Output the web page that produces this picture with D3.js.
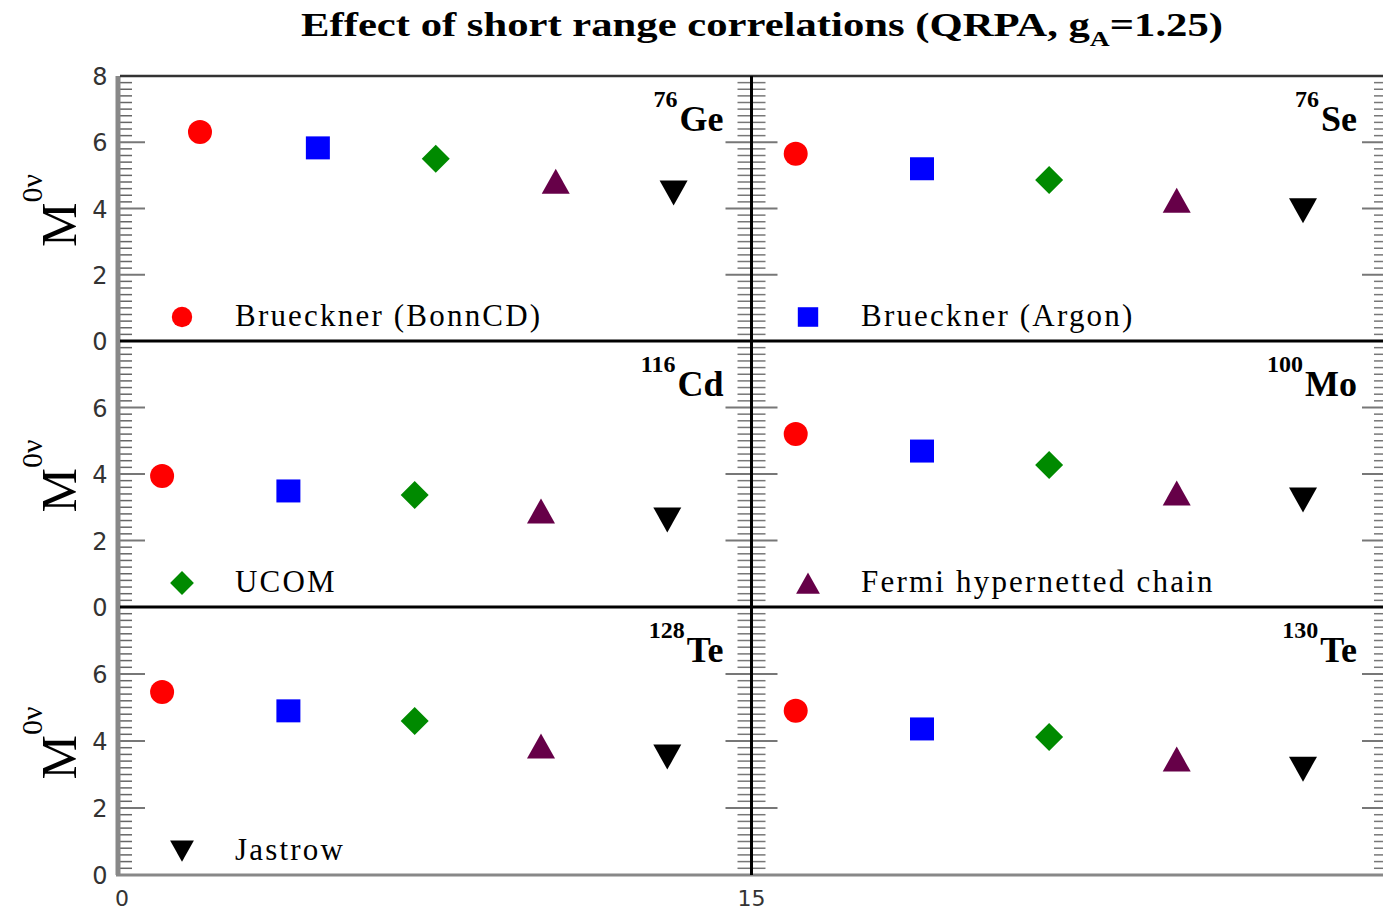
<!DOCTYPE html>
<html>
<head>
<meta charset="utf-8">
<script src="https://cdn.jsdelivr.net/npm/d3@7"></script>
<style>
  body { margin: 0; background: #fff; }
  svg { display: block; }
</style>
</head>
<body>
<div id="chart"></div>
<script>
// values
let methods = ["Brueckner (BonnCD)", "Brueckner (Argon)", "UCOM", "Fermi hypernetted chain", "Jastrow"];
let massNumbers = ["76", "76", "116", "100", "128", "130"];
let symbols = ["Ge", "Se", "Cd", "Mo", "Te", "Te"];

let xGe = [1.9, 4.7, 7.5, 10.35, 13.15];
let xLeft = [1, 4, 7, 10, 13];
let xRight = [16.05, 19.05, 22.07, 25.1, 28.1];

let valGe = [6.31, 5.83, 5.5, 4.82, 4.47];
let valSe = [5.65, 5.2, 4.86, 4.25, 3.93];
let valCd = [3.94, 3.49, 3.37, 2.89, 2.62];
let valMo = [5.2, 4.69, 4.27, 3.43, 3.22];
let valTe128 = [5.46, 4.9, 4.6, 3.85, 3.52];
let valTe130 = [4.9, 4.36, 4.12, 3.46, 3.16];

let yTicks = [0, 2, 4, 6, 8];
let xTickLabels = [0, 15];

let panelX = [xGe, xRight, xLeft, xRight, xLeft, xRight];
let panelVals = [valGe, valSe, valCd, valMo, valTe128, valTe130];

let colors = ["#ff0000", "#0000ff", "#008a00", "#660048", "#000000"];

let W = 1383, H = 913;
let rowTop = [76, 341, 607];
let rowBot = [341, 607, 875];

let svg = d3.select("#chart").append("svg")
  .attr("width", W).attr("height", H);

let x = d3.scaleLinear().domain([0, 30]).range([120, 1383]);
let yScales = rowTop.map((t, i) => d3.scaleLinear().domain([0, 8]).range([rowBot[i], t]));

// marker shapes
function markerPath(k) {
  let p = d3.path();
  if (k == 0) {
    p.arc(0, 0, 12, 0, 2 * Math.PI);
  } else if (k == 1) {
    p.rect(-12, -11.5, 24, 23);
  } else if (k == 2) {
    p.moveTo(0, -14); p.lineTo(14, 0); p.lineTo(0, 14); p.lineTo(-14, 0); p.closePath();
  } else if (k == 3) {
    p.moveTo(0, -12.5); p.lineTo(14, 12.5); p.lineTo(-14, 12.5); p.closePath();
  } else {
    p.moveTo(0, 12.5); p.lineTo(14, -12.5); p.lineTo(-14, -12.5); p.closePath();
  }
  return p.toString();
}

let font = "'Liberation Serif', 'DejaVu Serif', serif";

// title
let title = svg.append("text")
  .attr("x", 762).attr("y", 36)
  .attr("text-anchor", "middle")
  .attr("font-family", font).attr("font-weight", "bold")
  .attr("font-size", 34)
  .attr("textLength", 922).attr("lengthAdjust", "spacingAndGlyphs");
title.append("tspan").text("Effect of short range correlations (QRPA, g");
title.append("tspan").attr("font-size", 22).attr("dy", 10).text("A");
title.append("tspan").attr("dy", -10).text("=1.25)");

// axes per row
for (let r = 0; r < 3; r++) {
  let y = yScales[r];
  let g = svg.append("g");
  let minor = d3.range(0.2, 8, 0.2).filter(v => Math.abs(v / 2 - Math.round(v / 2)) > 0.01);
  let major = [2, 4, 6];

  // left axis
  g.selectAll(".lmin").data(minor).enter().append("line")
    .attr("x1", 120).attr("x2", 132)
    .attr("y1", d => y(d)).attr("y2", d => y(d))
    .attr("stroke", "#666").attr("stroke-width", 1.5);
  g.selectAll(".lmaj").data(major).enter().append("line")
    .attr("x1", 120).attr("x2", 145)
    .attr("y1", d => y(d)).attr("y2", d => y(d))
    .attr("stroke", "#777").attr("stroke-width", 2);

  // middle divider ticks (both sides)
  g.selectAll(".mmin").data(minor).enter().append("line")
    .attr("x1", x(15) - 14).attr("x2", x(15) + 14)
    .attr("y1", d => y(d)).attr("y2", d => y(d))
    .attr("stroke", "#777").attr("stroke-width", 1.5);
  g.selectAll(".mmaj").data(major).enter().append("line")
    .attr("x1", x(15) - 26).attr("x2", x(15) + 26)
    .attr("y1", d => y(d)).attr("y2", d => y(d))
    .attr("stroke", "#777").attr("stroke-width", 2);

  // right edge ticks
  g.selectAll(".rmin").data(minor).enter().append("line")
    .attr("x1", x(30) - 9).attr("x2", x(30))
    .attr("y1", d => y(d)).attr("y2", d => y(d))
    .attr("stroke", "#777").attr("stroke-width", 1.5);
  g.selectAll(".rmaj").data(major).enter().append("line")
    .attr("x1", x(30) - 21).attr("x2", x(30))
    .attr("y1", d => y(d)).attr("y2", d => y(d))
    .attr("stroke", "#777").attr("stroke-width", 2);

  // tick labels
  let labs = r == 0 ? yTicks : yTicks.filter(v => v < 8);
  g.selectAll(".ylab").data(labs).enter().append("text")
    .attr("x", 100).attr("y", d => y(d) + 9)
    .attr("text-anchor", "middle")
    .attr("font-family", "'DejaVu Sans', sans-serif")
    .attr("font-size", 24).attr("fill", "#333")
    .text(d => d);

  // y title
  let cy = (rowTop[r] + rowBot[r]) / 2;
  let yt = svg.append("text")
    .attr("transform", "translate(76," + (cy + 2) + ") rotate(-90)")
    .attr("text-anchor", "middle")
    .attr("font-family", font).attr("font-size", 50);
  yt.append("tspan").text("M");
  yt.append("tspan").attr("font-size", 30).attr("dy", -34).text("0\u03bd");
}

// frame lines
svg.append("line").attr("x1", 118).attr("x2", 118).attr("y1", 76).attr("y2", 875)
  .attr("stroke", "#888").attr("stroke-width", 5);
svg.append("line").attr("x1", 120).attr("x2", W).attr("y1", 76).attr("y2", 76)
  .attr("stroke", "#333").attr("stroke-width", 2.5);
svg.append("line").attr("x1", 116).attr("x2", W).attr("y1", 875).attr("y2", 875)
  .attr("stroke", "#888").attr("stroke-width", 3);
[341, 607].forEach(yy => {
  svg.append("line").attr("x1", 120).attr("x2", W).attr("y1", yy).attr("y2", yy)
    .attr("stroke", "#000").attr("stroke-width", 3);
});
svg.append("line").attr("x1", x(15)).attr("x2", x(15)).attr("y1", 76).attr("y2", 875)
  .attr("stroke", "#000").attr("stroke-width", 3);

// x tick labels
svg.selectAll(".xlab").data(xTickLabels).enter().append("text")
  .attr("x", d => x(d) + (d == 0 ? 2 : 0)).attr("y", 906)
  .attr("text-anchor", "middle")
  .attr("font-family", "'DejaVu Sans', sans-serif")
  .attr("font-size", 22).attr("fill", "#333")
  .text(d => d);

// panels
for (let p = 0; p < 6; p++) {
  let r = Math.floor(p / 2), c = p % 2;
  let y = yScales[r];
  let pts = panelVals[p].map((v, k) => ({ x: panelX[p][k], v: v, k: k }));
  svg.append("g").selectAll("path").data(pts).enter().append("path")
    .attr("transform", d => "translate(" + x(d.x) + "," + y(d.v) + ")")
    .attr("d", d => markerPath(d.k))
    .attr("fill", d => colors[d.k]);

  // nucleus label
  let right = c == 0 ? x(15) - 28 : x(30) - 26;
  let lab = svg.append("text")
    .attr("x", right).attr("y", rowTop[r] + 55)
    .attr("text-anchor", "end")
    .attr("font-family", font).attr("font-weight", "bold")
    .attr("font-size", 36);
  lab.append("tspan").attr("font-size", 24).attr("dy", -24).text(massNumbers[p]);
  lab.append("tspan").attr("dx", 2).attr("dy", 24).text(symbols[p]);
}

// legend entries, one per panel
let legendPanels = [0, 1, 2, 3, 4];
legendPanels.forEach(k => {
  let r = Math.floor(k / 2), c = k % 2;
  let mx = c == 0 ? 182 : 808;
  let my = rowBot[r] - 24;
  svg.append("path")
    .attr("transform", "translate(" + mx + "," + my + ") scale(0.85)")
    .attr("d", markerPath(k))
    .attr("fill", colors[k]);
  svg.append("text")
    .attr("x", mx + 53).attr("y", my + 9)
    .attr("font-family", font).attr("font-size", 31)
    .attr("letter-spacing", 2.2)
    .text(methods[k]);
});
</script>
</body>
</html>
